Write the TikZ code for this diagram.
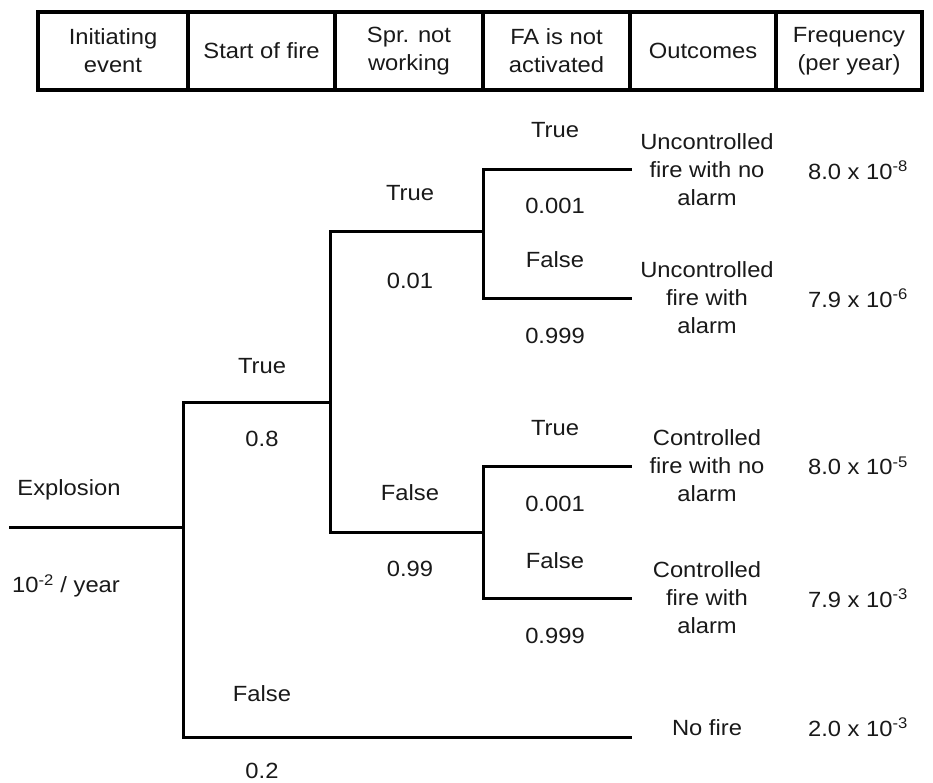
\documentclass[tikz,border=0pt]{standalone}
\usepackage{fontspec}
\setmainfont{Liberation Sans}[FakeStretch=1.08]
\begin{document}
\begin{tikzpicture}[x=1pt,y=-1pt,
  lbl/.style={font=\fontsize{22}{28}\selectfont, inner sep=0pt, align=center, text=black!90},
  hcell/.style={draw, line width=3.5pt, minimum height=78pt, inner sep=0pt,
                font=\fontsize{22}{28}\selectfont, align=center, text=black!90},
  branch/.style={line width=3pt, line cap=rect}]
\useasboundingbox (0,0) rectangle (933,783);

% header row
\node[hcell, minimum width=150pt] (h1) at (113,51) {Initiating\\event};
\node[hcell, minimum width=147pt] (h2) at (261.5,51) {Start of fire};
\node[hcell, minimum width=148pt] (h3) at (409,51) {Spr. not\\working};
\node[hcell, minimum width=147pt] (h4) at (556.5,51) {FA is not\\activated};
\node[hcell, minimum width=146pt] (h5) at (703,51) {Outcomes};
\node[hcell, minimum width=146pt] (h6) at (849,51) {Frequency\\(per year)};

% junction points of the tree
\coordinate (start) at (10,527);
\coordinate (j1) at (183,527);
\coordinate (j1t) at (183,402);
\coordinate (j1f) at (183,737);
\coordinate (j2) at (330,402);
\coordinate (j2t) at (330,232);
\coordinate (j2f) at (330,532);
\coordinate (j3) at (483,232);
\coordinate (j3t) at (483,170);
\coordinate (j3f) at (483,298);
\coordinate (j4) at (483,532);
\coordinate (j4t) at (483,466);
\coordinate (j4f) at (483,598);
\coordinate (e1) at (630,170);
\coordinate (e2) at (630,298);
\coordinate (e3) at (630,466);
\coordinate (e4) at (630,598);
\coordinate (e5) at (630,737);

% branches
\draw[branch] (start) -- (j1);
\draw[branch] (j1t) -- (j1f);
\draw[branch] (j1t) -- (j2);
\draw[branch] (j1f) -- (e5);
\draw[branch] (j2t) -- (j2f);
\draw[branch] (j2t) -- (j3);
\draw[branch] (j2f) -- (j4);
\draw[branch] (j3t) -- (j3f);
\draw[branch] (j3t) -- (e1);
\draw[branch] (j3f) -- (e2);
\draw[branch] (j4t) -- (j4f);
\draw[branch] (j4t) -- (e3);
\draw[branch] (j4f) -- (e4);

% initiating event
\node[lbl] (expl) at (69,490) {Explosion};
\node[lbl] (rate) at (66,586) {10\textsuperscript{-2} / year};

% start of fire
\node[lbl] (sT) at (262,366) {True};
\node[lbl] (sTp) at (262,439) {0.8};
\node[lbl] (sF) at (262,694) {False};
\node[lbl] (sFp) at (262,771) {0.2};

% sprinkler
\node[lbl] (pT) at (410,193) {True};
\node[lbl] (pTp) at (410,281) {0.01};
\node[lbl] (pF) at (410,493) {False};
\node[lbl] (pFp) at (410,569) {0.99};

% fire alarm
\node[lbl] (aT1) at (555,130) {True};
\node[lbl] (aT1p) at (555,206) {0.001};
\node[lbl] (aF1) at (555,260) {False};
\node[lbl] (aF1p) at (555,336) {0.999};
\node[lbl] (aT2) at (555,428) {True};
\node[lbl] (aT2p) at (555,504) {0.001};
\node[lbl] (aF2) at (555,561) {False};
\node[lbl] (aF2p) at (555,636) {0.999};

% outcomes
\node[lbl] (o1) at (707,170) {Uncontrolled\\fire with no\\alarm};
\node[lbl] (o2) at (707,298) {Uncontrolled\\fire with\\alarm};
\node[lbl] (o3) at (707,466) {Controlled\\fire with no\\alarm};
\node[lbl] (o4) at (707,598) {Controlled\\fire with\\alarm};
\node[lbl] (o5) at (707,728) {No fire};

% frequencies
\node[lbl] (f1) at (858,170) {8.0 x 10\textsuperscript{-8}};
\node[lbl] (f2) at (858,298) {7.9 x 10\textsuperscript{-6}};
\node[lbl] (f3) at (858,466) {8.0 x 10\textsuperscript{-5}};
\node[lbl] (f4) at (858,598) {7.9 x 10\textsuperscript{-3}};
\node[lbl] (f5) at (858,727) {2.0 x 10\textsuperscript{-3}};
\end{tikzpicture}
\end{document}
